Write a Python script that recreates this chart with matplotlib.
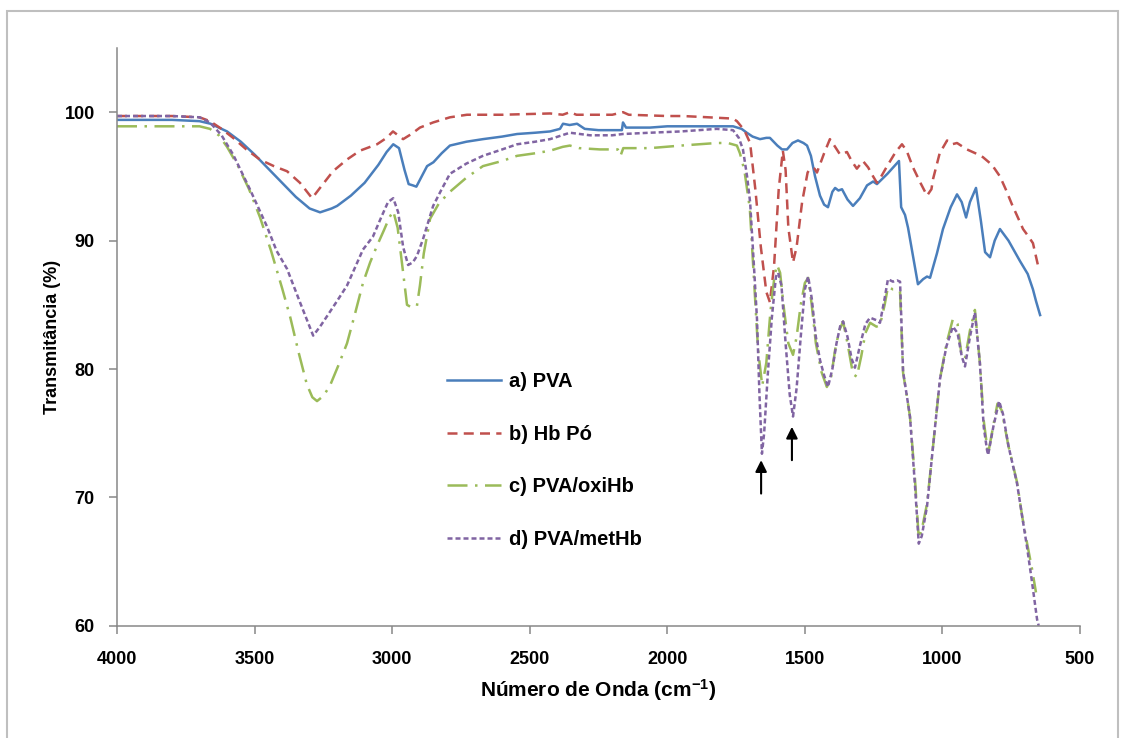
import matplotlib as mpl
import matplotlib.pyplot as plt
from matplotlib.patches import Rectangle
mpl.use('Agg')

# FTIR spectra (wavenumber, transmittance %)
pva_wn = [4000, 3800, 3700, 3660, 3600, 3550, 3500, 3450, 3400, 3350, 3300, 3262, 3220, 3200,
          3150, 3100, 3050, 3020, 2996, 2975, 2955, 2940, 2925, 2912, 2895, 2873, 2850, 2820,
          2790, 2730, 2670, 2600, 2546, 2480, 2426, 2390, 2379, 2355, 2328, 2300, 2250, 2183,
          2165, 2161, 2150, 2100, 2063, 2000, 1943, 1880, 1800, 1761, 1730, 1711, 1690, 1663,
          1640, 1627, 1600, 1583, 1565, 1545, 1525, 1505, 1492, 1478, 1463, 1445, 1430, 1416,
          1400, 1390, 1378, 1365, 1345, 1325, 1300, 1274, 1252, 1238, 1200, 1158, 1150, 1136,
          1125, 1107, 1089, 1070, 1056, 1045, 1020, 998, 970, 947, 930, 914, 900, 878, 860,
          845, 827, 810, 791, 760, 718, 690, 671, 660, 645]
pva_t = [99.4, 99.4, 99.3, 99.1, 98.5, 97.7, 96.7, 95.6, 94.5, 93.4, 92.5, 92.2, 92.5, 92.7,
         93.5, 94.5, 95.9, 96.9, 97.5, 97.2, 95.5, 94.4, 94.3, 94.2, 94.9, 95.8, 96.1, 96.8,
         97.4, 97.7, 97.9, 98.1, 98.3, 98.4, 98.5, 98.7, 99.1, 99.0, 99.1, 98.7, 98.6, 98.6,
         98.6, 99.2, 98.8, 98.8, 98.8, 98.9, 98.9, 98.9, 98.9, 98.9, 98.7, 98.4, 98.1, 97.9,
         98.0, 98.0, 97.4, 97.1, 97.1, 97.6, 97.8, 97.6, 97.4, 96.6, 95.0, 93.5, 92.8, 92.6,
         93.8, 94.1, 93.9, 94.0, 93.2, 92.7, 93.3, 94.3, 94.6, 94.4, 95.2, 96.2, 92.6, 92.0,
         91.0, 88.8, 86.6, 87.0, 87.2, 87.1, 89.0, 90.9, 92.6, 93.6, 93.0, 91.8, 93.0, 94.1, 91.5,
         89.1, 88.7, 90.0, 90.9, 90.0, 88.4, 87.4, 86.2, 85.3, 84.2]

hb_wn = [4000, 3800, 3700, 3662, 3620, 3578, 3530, 3480, 3430, 3382, 3335, 3291, 3255, 3215,
         3165, 3117, 3055, 3020, 2997, 2960, 2930, 2899, 2851, 2790, 2728, 2600, 2426, 2380,
         2354, 2330, 2200, 2161, 2140, 2000, 1943, 1850, 1761, 1747, 1720, 1699, 1680, 1660,
         1640, 1627, 1612, 1595, 1580, 1570, 1560, 1543, 1530, 1510, 1490, 1481, 1465, 1456,
         1430, 1409, 1390, 1372, 1347, 1330, 1311, 1289, 1270, 1252, 1238, 1225, 1201, 1170,
         1147, 1130, 1107, 1080, 1056, 1040, 1034, 1010, 983, 965, 947, 911, 880, 853, 820,
         791, 770, 747, 730, 707, 690, 671, 653]
hb_t = [99.7, 99.7, 99.6, 99.3, 98.7, 98.0, 97.1, 96.3, 95.8, 95.4, 94.5, 93.3, 94.3, 95.4,
        96.3, 97.0, 97.5, 98.0, 98.5, 97.9, 98.3, 98.8, 99.2, 99.6, 99.8, 99.8, 99.9, 99.8,
        100.0, 99.8, 99.8, 100.0, 99.8, 99.7, 99.7, 99.6, 99.5, 99.3, 98.6, 97.6, 94.0, 89.5,
        86.0, 85.2, 88.0, 94.0, 97.0, 95.5, 91.0, 88.3, 89.5, 93.0, 95.3, 95.6, 95.6, 95.3,
        96.8, 97.9, 97.3, 96.7, 96.9, 96.2, 95.6, 96.2, 95.7, 95.0, 94.5, 94.9, 95.8, 96.9,
        97.5, 97.0, 95.7, 94.5, 93.5, 94.0, 94.8, 96.8, 97.8, 97.5, 97.6, 97.1, 96.8, 96.5, 95.9,
        95.0, 94.0, 92.8, 92.0, 90.9, 90.4, 89.8, 88.1]

oxi_wn = [4000, 3800, 3700, 3662, 3630, 3600, 3560, 3520, 3480, 3440, 3400, 3370, 3340, 3310,
          3290, 3273, 3250, 3226, 3195, 3164, 3135, 3106, 3080, 3055, 3030, 3010, 2996, 2980,
          2960, 2946, 2930, 2910, 2899, 2885, 2862, 2830, 2790, 2730, 2670, 2600, 2546, 2480,
          2426, 2380, 2354, 2320, 2245, 2180, 2170, 2160, 2063, 1950, 1820, 1780, 1747, 1736,
          1720, 1700, 1685, 1670, 1655, 1640, 1625, 1610, 1601, 1590, 1575, 1560, 1543, 1530,
          1515, 1500, 1488, 1475, 1460, 1440, 1420, 1405, 1390, 1375, 1361, 1345, 1325, 1311,
          1295, 1280, 1263, 1240, 1227, 1210, 1198, 1180, 1160, 1154, 1143, 1130, 1118, 1100,
          1086, 1075, 1056, 1034, 1009, 985, 962, 945, 930, 918, 900, 882, 864, 850, 838, 834,
          815, 800, 785, 760, 729, 710, 693, 675, 660]
oxi_t = [98.9, 98.9, 98.9, 98.7, 98.2, 97.3, 95.8, 94.0, 91.8, 89.2, 86.3, 84.0, 81.3, 78.8,
         77.8, 77.5, 77.9, 78.7, 80.3, 82.0, 84.3, 86.7, 88.3, 89.6, 90.8, 91.8, 92.3, 91.0,
         87.5, 85.0, 84.8, 84.9, 86.5, 89.0, 91.7, 92.9, 93.8, 94.9, 95.8, 96.2, 96.6, 96.8,
         97.0, 97.3, 97.4, 97.2, 97.1, 97.1, 96.6, 97.2, 97.2, 97.4, 97.6, 97.6, 97.4, 96.8,
         95.5, 92.5, 87.0, 81.5, 78.7, 80.5, 84.5, 87.3, 88.1, 87.5, 84.5, 82.0, 81.1, 82.5,
         85.0, 86.7, 87.1, 85.0, 82.0, 79.8, 78.6, 79.3, 81.5, 83.0, 83.7, 82.0, 79.6, 79.4,
         81.0, 82.8, 83.6, 83.3, 83.4, 85.0, 86.4, 86.2, 86.2, 86.0, 79.7, 78.0, 76.3, 71.5,
         66.8, 67.5, 69.5, 74.0, 79.2, 82.0, 83.9, 83.5, 81.0, 80.8, 83.0, 84.6, 80.5, 76.0, 74.0, 73.4,
         75.6, 77.3, 76.8, 74.0, 71.2, 68.5, 66.5, 64.5, 62.6]

met_wn = [4000, 3800, 3700, 3662, 3620, 3578, 3517, 3455, 3420, 3382, 3335, 3300, 3287, 3262,
          3237, 3200, 3164, 3135, 3106, 3070, 3040, 3015, 2996, 2978, 2960, 2942, 2925, 2910,
          2888, 2851, 2820, 2790, 2730, 2670, 2600, 2546, 2480, 2426, 2354, 2281, 2200, 2161,
          2063, 1950, 1820, 1761, 1740, 1725, 1710, 1699, 1685, 1674, 1665, 1656, 1648, 1635,
          1620, 1605, 1597, 1585, 1570, 1555, 1543, 1530, 1515, 1500, 1488, 1475, 1460, 1445,
          1430, 1416, 1400, 1385, 1370, 1361, 1345, 1330, 1318, 1300, 1280, 1263, 1240, 1227,
          1210, 1198, 1180, 1165, 1154, 1143, 1130, 1118, 1100, 1086, 1075, 1056, 1034, 1009,
          985, 962, 945, 930, 918, 900, 882, 864, 850, 838, 834, 815, 794, 780, 760, 729, 710,
          693, 675, 656, 650]
met_t = [99.7, 99.7, 99.6, 99.2, 98.2, 96.7, 94.0, 91.1, 89.2, 87.8, 85.2, 83.3, 82.6, 83.3,
         84.1, 85.3, 86.5, 87.9, 89.3, 90.3, 91.8, 93.0, 93.3, 92.2, 89.5, 88.1, 88.3, 88.8,
         90.1, 92.7, 94.0, 95.2, 96.0, 96.6, 97.1, 97.5, 97.7, 97.9, 98.4, 98.2, 98.2, 98.3,
         98.4, 98.5, 98.7, 98.6, 98.0, 97.1, 95.0, 93.0, 88.0, 83.9, 78.0, 73.4, 75.0, 79.5,
         84.0, 87.2, 87.5, 86.5, 82.0, 78.0, 76.3, 78.5, 82.5, 86.2, 87.2, 85.5, 82.5, 80.7,
         79.5, 78.6, 80.0, 82.0, 83.5, 83.7, 82.5, 80.8, 80.1, 81.8, 83.5, 84.0, 83.8, 83.6,
         85.5, 87.0, 86.8, 86.9, 86.8, 79.8, 78.0, 76.3, 71.0, 66.4, 67.0, 69.3, 74.0, 79.2,
         81.8, 83.3, 82.8, 81.0, 80.2, 82.5, 84.4, 80.5, 75.5, 73.7, 73.3, 75.5, 77.5, 76.5,
         74.0, 71.1, 68.5, 66.2, 63.5, 60.5, 60.0]

labels = ["a) PVA", "b) Hb Pó", "c) PVA/oxiHb", "d) PVA/metHb"]
x_ticks = [4000, 3500, 3000, 2500, 2000, 1500, 1000, 500]
y_ticks = [60, 70, 80, 90, 100]

# arrows marking the amide bands: wavenumber, tail, head
arrow_wn = [1659, 1547]
arrow_tail = [70.3, 72.9]
arrow_head = [72.9, 75.5]

plt.rcParams['font.family'] = ['Liberation Sans', 'DejaVu Sans']
plt.rcParams['font.weight'] = 'bold'
plt.rcParams['mathtext.fontset'] = 'custom'
plt.rcParams['mathtext.rm'] = 'Liberation Sans:bold'
plt.rcParams['mathtext.default'] = 'rm'

fig = plt.figure(figsize=(11.25, 7.38), dpi=100)
ax = fig.add_axes([0.104, 0.152, 0.856, 0.783])

lw = 1.8
ax.plot(pva_wn, pva_t, color='#4a7ebb', lw=lw, label=labels[0])
ax.plot(hb_wn, hb_t, color='#c0504d', lw=lw, linestyle=(0, (4, 2.5)), label=labels[1])
ax.plot(oxi_wn, oxi_t, color='#9bbb59', lw=lw, linestyle=(0, (8, 3, 1, 3)), label=labels[2])
ax.plot(met_wn, met_t, color='#8064a2', lw=lw, linestyle=(0, (2, 1.2)), label=labels[3])

for wn, t0, t1 in zip(arrow_wn, arrow_tail, arrow_head):
    ax.annotate('', xy=(wn, t1), xytext=(wn, t0),
                arrowprops=dict(arrowstyle='-|>', color='black', lw=1.5, mutation_scale=17,
                                shrinkA=0, shrinkB=0))

ax.set_xlim(4000, 500)
ax.set_ylim(60, 105)
ax.set_xticks(x_ticks)
ax.set_yticks(y_ticks)

for side in ['top', 'right']:
    ax.spines[side].set_visible(False)
for side in ['left', 'bottom']:
    ax.spines[side].set_color('#888888')
    ax.spines[side].set_linewidth(1.1)
ax.tick_params(axis='both', colors='#888888', length=6, width=1.1, labelcolor='black',
               labelsize=13)
ax.tick_params(axis='x', pad=12)
ax.tick_params(axis='y', pad=10)

ax.set_ylabel('Transmitância (%)', fontsize=13, fontweight='bold')
ax.yaxis.set_label_coords(-0.058, 0.5)
ax.set_xlabel('Número de Onda (cm$^{-1}$)', fontsize=15, fontweight='bold')
ax.xaxis.set_label_coords(0.5, -0.088)

ax.legend(loc='upper left', bbox_to_anchor=(0.3236, 0.471), frameon=False, labelspacing=1.68,
          handlelength=2.7, handletextpad=0.4, prop={'size': 14.5, 'weight': 'bold'})

# light frame around the whole chart
fig.patches.append(Rectangle((7 / 1125, -0.05), 1111 / 1125, 1.05 - 11 / 738,
                             transform=fig.transFigure, fill=False,
                             edgecolor='#bfbfbf', lw=1.5))

fig.savefig('out.png', dpi=100)
plt.close(fig)
